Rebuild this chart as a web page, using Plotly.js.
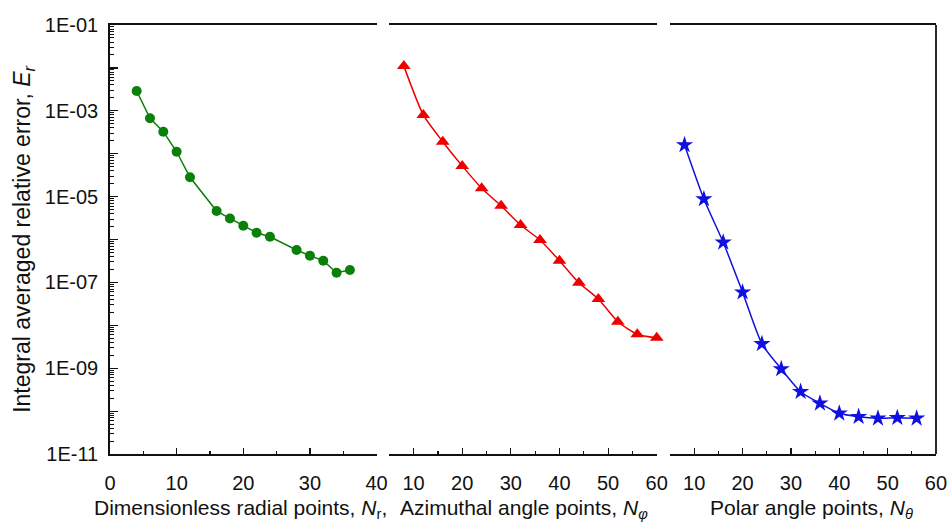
<!DOCTYPE html>
<html>
<head>
<meta charset="utf-8">
<script src="https://cdn.plot.ly/plotly-3.0.1.min.js"></script>
<style>html,body{margin:0;padding:0;background:#fff;}#chart{width:948px;height:522px;}</style>
</head>
<body>
<div id="chart"></div>
<script>
// Radial points (green circles)
const radialN   = [4, 6, 8, 10, 12, 16, 18, 20, 22, 24, 28, 30, 32, 34, 36];
const radialErr = [2.9e-3, 6.7e-4, 3.26e-4, 1.11e-4, 2.82e-5, 4.6e-6, 3.1e-6, 2.1e-6, 1.44e-6, 1.16e-6, 5.7e-7, 4.2e-7, 3.2e-7, 1.68e-7, 1.95e-7];
// Azimuthal angle points (red triangles)
const azimN   = [8, 12, 16, 20, 24, 28, 32, 36, 40, 44, 48, 52, 56, 60];
const azimErr = [1.1e-2, 8.0e-4, 1.9e-4, 5.2e-5, 1.56e-5, 6.1e-6, 2.18e-6, 9.7e-7, 3.2e-7, 9.8e-8, 4.1e-8, 1.21e-8, 6.2e-9, 5.1e-9];
// Polar angle points (blue stars)
const polarN   = [8, 12, 16, 20, 24, 28, 32, 36, 40, 44, 48, 52, 56];
const polarErr = [1.6e-4, 8.8e-6, 8.6e-7, 5.9e-8, 3.7e-9, 9.6e-10, 2.83e-10, 1.52e-10, 8.9e-11, 7.4e-11, 6.8e-11, 7.0e-11, 6.8e-11];

// Axis labels
const yTickVals  = [1e-1, 1e-2, 1e-3, 1e-4, 1e-5, 1e-6, 1e-7, 1e-8, 1e-9, 1e-10, 1e-11];
const yTickText  = ['1E-01', '', '1E-03', '', '1E-05', '', '1E-07', '', '1E-09', '', '1E-11'];
const yTitle     = 'Integral averaged relative error, <i>E</i><sub><i>r</i></sub>';
const xTitle1    = 'Dimensionless radial points, <i>N</i><sub>r</sub>,';
const xTitle2    = 'Azimuthal angle points, <i>N</i><sub><i>φ</i></sub>';
const xTitle3    = 'Polar angle points, <i>N</i><sub><i>θ</i></sub>';

// minor log ticks (2..9 in each decade)
const yMinor = [];
for (let e = -11; e < -1; e++) for (let m = 2; m <= 9; m++) yMinor.push(m * Math.pow(10, e));

const FONT = 'Liberation Sans, Arial, Helvetica, sans-serif';

const traces = [
  {x: radialN, y: radialErr, xaxis: 'x', yaxis: 'y', mode: 'lines+markers', cliponaxis: false,
   line: {color: '#0a800a', width: 1.5},
   marker: {symbol: 'circle', size: 10, color: '#0a800a'}},
  {x: azimN, y: azimErr, xaxis: 'x2', yaxis: 'y', mode: 'lines+markers', cliponaxis: false,
   line: {color: '#ee0000', width: 1.5, shape: 'spline', smoothing: 0.6},
   marker: {symbol: 'triangle-up', size: 12, color: '#ee0000'}},
  {x: polarN, y: polarErr, xaxis: 'x3', yaxis: 'y', mode: 'lines+markers', cliponaxis: false,
   line: {color: '#1010e0', width: 1.5, shape: 'spline', smoothing: 0.6},
   marker: {symbol: 'star', size: 13, color: '#1010e0'}}
];

function xax(domain, range) {
  return {
    domain: domain, range: range, anchor: 'y',
    showline: true, linecolor: '#111', linewidth: 1.8, mirror: true,
    showgrid: false, zeroline: false,
    ticks: 'inside', ticklen: 6, tickwidth: 1.2, tickcolor: '#111',
    tickmode: 'linear', tick0: 0, dtick: 10,
    minor: {ticks: 'inside', ticklen: 3, tickwidth: 1.2, tickcolor: '#111', tickmode: 'linear', tick0: 0, dtick: 5},
    tickfont: {family: FONT, size: 20, color: '#111'},
    ticklabelstandoff: 10
  };
}

const layout = {
  width: 948, height: 522,
  margin: {l: 110, r: 12, t: 25, b: 68},
  paper_bgcolor: '#fff', plot_bgcolor: '#fff',
  showlegend: false,
  font: {family: FONT, color: '#111'},
  xaxis: xax([0, 0.3227], [0, 40]),
  xaxis2: xax([0.3381, 0.6619], [5, 60]),
  xaxis3: xax([0.678, 1], [5, 60]),
  yaxis: {
    type: 'log', range: [-11, -1], anchor: 'x',
    showline: true, linecolor: '#111', linewidth: 1.8,
    showgrid: false, zeroline: false,
    tickmode: 'array', tickvals: yTickVals, ticktext: yTickText,
    ticks: 'inside', ticklen: 8, tickwidth: 1.2, tickcolor: '#111',
    minor: {ticks: 'inside', ticklen: 4, tickwidth: 1, tickcolor: '#111', tickmode: 'array', tickvals: yMinor},
    tickfont: {family: FONT, size: 20, color: '#111'},
    ticklabelstandoff: 6,
    title: {text: yTitle, font: {family: FONT, size: 23, color: '#111'}, standoff: 8}
  },
  shapes: [
    {type: 'line', xref: 'x3 domain', yref: 'paper', x0: 1, x1: 1, y0: 0, y1: 1,
     line: {color: '#111', width: 1.8}}
  ],
  annotations: [
    {text: xTitle1, xref: 'paper', yref: 'paper', x: -0.0218, y: -0.128, xanchor: 'left', yanchor: 'middle', showarrow: false, font: {family: FONT, size: 21, color: '#111'}},
    {text: xTitle2, xref: 'paper', yref: 'paper', x: 0.3487, y: -0.128, xanchor: 'left', yanchor: 'middle', showarrow: false, font: {family: FONT, size: 21, color: '#111'}},
    {text: xTitle3, xref: 'paper', yref: 'paper', x: 0.724, y: -0.128, xanchor: 'left', yanchor: 'middle', showarrow: false, font: {family: FONT, size: 21, color: '#111'}}
  ]
};

Plotly.newPlot('chart', traces, layout, {displayModeBar: false, staticPlot: true});
</script>
</body>
</html>
